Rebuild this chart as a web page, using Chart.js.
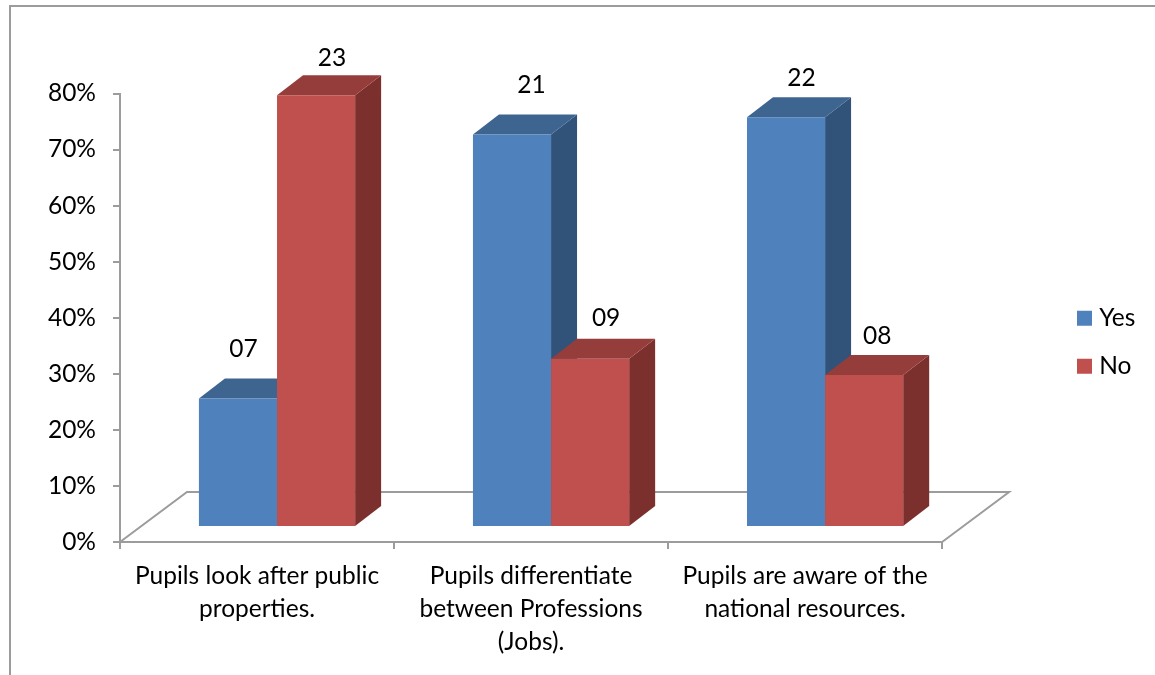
<!DOCTYPE html>
<html>
<head>
<meta charset="utf-8">
<title>Pupils survey</title>
<script src="https://cdn.jsdelivr.net/npm/chart.js@4"></script>
<style>
    html, body { margin: 0; background: #fff; }
    canvas { display: block; }
</style>
</head>
<body>
<canvas id="surveyChart" width="1155" height="675"></canvas>
<script>
const categories = [
    ['Pupils look after public', 'properties.'],
    ['Pupils differentiate', 'between Professions', '(Jobs).'],
    ['Pupils are aware of the', 'national resources.']
];
const yesPercent = [22.9, 70, 73.1];
const noPercent = [77, 30, 27.1];
const yesCounts = ['07', '21', '22'];
const noCounts = ['23', '09', '08'];
const percentTicks = [0, 10, 20, 30, 40, 50, 60, 70, 80];

const FONT = 'Lato, Carlito, Calibri, sans-serif';
const FONT_SIZE = 24.5;
const AXIS_GRAY = '#9c9c9c';

// Depth of the fake 3D box, in pixels
const floorDepth = { x: 67, y: 50 };
const barShift = { x: 20, y: 15 };
const barDepth = { x: 26, y: 20 };

function fillPoly(ctx, color, pts) {
    ctx.fillStyle = color;
    ctx.beginPath();
    pts.forEach((p, i) => i ? ctx.lineTo(p[0], p[1]) : ctx.moveTo(p[0], p[1]));
    ctx.closePath();
    ctx.fill();
}

// Outer frame of the chart object, only left and top edges are visible
const framePlugin = {
    id: 'frame',
    beforeDraw(chart) {
        const ctx = chart.ctx;
        ctx.save();
        ctx.strokeStyle = AXIS_GRAY;
        ctx.lineWidth = 2;
        ctx.beginPath();
        ctx.moveTo(10, chart.height);
        ctx.lineTo(10, 6);
        ctx.lineTo(chart.width, 6);
        ctx.stroke();
        ctx.restore();
    }
};

// Legend sits beside the floor, a bit above the middle of the plot
const legendPlugin = {
    id: 'legendSpot',
    afterLayout(chart) {
        const legend = chart.legend;
        const padding = legend.options.labels.padding;
        legend.left = 1082 - padding;
        legend.right = legend.left + legend.width;
        legend.top -= 42;
        legend.bottom -= 42;
    }
};

// Floor outline, then the bars pushed back onto it with top and side faces.
// Yes goes first so the No bars overlap its side face.
const boxPlugin = {
    id: 'box3d',
    beforeDatasetsDraw(chart) {
        const { ctx, chartArea: a } = chart;
        ctx.save();
        ctx.strokeStyle = AXIS_GRAY;
        ctx.lineWidth = 2;
        ctx.beginPath();
        ctx.moveTo(a.left, a.bottom);
        ctx.lineTo(a.left + floorDepth.x, a.bottom - floorDepth.y);
        ctx.lineTo(a.right + floorDepth.x, a.bottom - floorDepth.y);
        ctx.lineTo(a.right, a.bottom);
        ctx.stroke();

        ctx.translate(barShift.x, -barShift.y);
        chart.data.datasets.forEach((ds, d) => {
            const meta = chart.getDatasetMeta(d);
            meta.data.forEach(bar => {
                const l = bar.x - bar.width / 2;
                const r = bar.x + bar.width / 2;
                const dx = barDepth.x, dy = barDepth.y;
                fillPoly(ctx, ds.sideColor, [[r, bar.y], [r + dx, bar.y - dy], [r + dx, bar.base - dy], [r, bar.base]]);
                fillPoly(ctx, ds.topColor, [[l, bar.y], [l + dx, bar.y - dy], [r + dx, bar.y - dy], [r, bar.y]]);
            });
            meta.controller.draw();
        });
        ctx.restore();
        return false;
    }
};

// Count labels, hand placed around the bar tops
const countPlugin = {
    id: 'counts',
    afterDraw(chart, args, opts) {
        const ctx = chart.ctx;
        ctx.save();
        ctx.fillStyle = '#000';
        ctx.font = FONT_SIZE + 'px ' + FONT;
        ctx.textAlign = 'center';
        ctx.textBaseline = 'middle';
        chart.data.datasets.forEach((ds, d) => {
            chart.getDatasetMeta(d).data.forEach((bar, i) => {
                const nudge = opts.nudges[d][i];
                ctx.fillText(ds.counts[i], bar.x + barShift.x + nudge[0], bar.y - barShift.y + nudge[1]);
            });
        });
        ctx.restore();
    }
};

new Chart(document.getElementById('surveyChart').getContext('2d'), {
    type: 'bar',
    data: {
        labels: categories,
        datasets: [{
            label: 'Yes',
            data: yesPercent,
            counts: yesCounts,
            backgroundColor: '#4f81bd',
            topColor: '#3e6490',
            sideColor: '#315379'
        }, {
            label: 'No',
            data: noPercent,
            counts: noCounts,
            backgroundColor: '#c0504d',
            topColor: '#953d3b',
            sideColor: '#7c302e'
        }]
    },
    plugins: [framePlugin, legendPlugin, boxPlugin, countPlugin],
    options: {
        responsive: false,
        animation: false,
        layout: { padding: { top: 93.5, right: 0, left: 0, bottom: 0 } },
        datasets: { bar: { barPercentage: 1, categoryPercentage: 0.57 } },
        scales: {
            x: {
                afterFit: s => { s.height = 133; },
                border: { color: AXIS_GRAY, width: 2 },
                grid: { drawOnChartArea: false, color: AXIS_GRAY, lineWidth: 2, tickLength: 7 },
                ticks: {
                    color: '#000',
                    font: { family: FONT, size: FONT_SIZE, lineHeight: 1.36 },
                    padding: 10,
                    maxRotation: 0,
                    autoSkip: false
                }
            },
            y: {
                min: 0,
                max: 80,
                afterFit: s => { s.width = 120; },
                afterBuildTicks: s => { s.ticks = percentTicks.map(v => ({ value: v })); },
                border: { color: AXIS_GRAY, width: 2 },
                grid: { drawOnChartArea: false, color: AXIS_GRAY, lineWidth: 2, tickLength: 7 },
                ticks: {
                    color: '#000',
                    font: { family: FONT, size: FONT_SIZE },
                    padding: 17,
                    callback: v => v + '%'
                }
            },
            // Empty axis, only keeps room for the floor between plot and legend
            gutter: {
                type: 'linear',
                position: 'right',
                afterFit: s => { s.width = 126; },
                border: { display: false },
                grid: { display: false },
                ticks: { display: false }
            }
        },
        plugins: {
            tooltip: { enabled: false },
            legend: {
                position: 'right',
                labels: {
                    color: '#000',
                    usePointStyle: true,
                    pointStyle: 'rect',
                    boxWidth: 5,
                    boxHeight: 15,
                    padding: 23.5,
                    font: { family: FONT, size: FONT_SIZE }
                }
            },
            counts: {
                nudges: [
                    [[5.5, -50], [19.5, -49], [15.5, -39]],
                    [[16, -37], [16, -41], [13, -39]]
                ]
            }
        }
    }
});
</script>
</body>
</html>
